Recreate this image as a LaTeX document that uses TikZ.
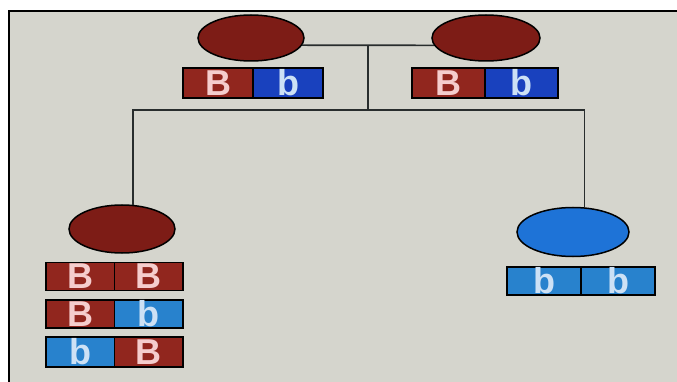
\documentclass[tikz,border=0pt]{standalone}
\usepackage{fontspec}
\setmainfont{Liberation Sans}
\usetikzlibrary{shapes.geometric}
\definecolor{bgc}{RGB}{213,213,205}
\definecolor{ellred}{RGB}{125,28,22}
\definecolor{barred}{RGB}{145,38,30}
\definecolor{topblue}{RGB}{25,65,190}
\definecolor{kidblue}{RGB}{40,130,205}
\definecolor{ellblue}{RGB}{30,115,215}
\definecolor{Bpink}{RGB}{245,205,205}
\definecolor{bblue}{RGB}{205,225,245}
\definecolor{linec}{RGB}{40,45,45}
\tikzset{
  person/.style={ellipse, draw=black, line width=1.5pt, inner sep=0pt},
  allele/.style={rectangle, draw=black, line width=1.2pt, inner sep=0pt,
     minimum height=28pt, font=\fontsize{36}{36}\selectfont\bfseries},
  bigB/.style={allele, fill=barred, text=Bpink},
  smallb/.style={allele, text=bblue},
  link/.style={draw=linec, line width=1.6pt}
}
\begin{document}
\begin{tikzpicture}[x=1pt,y=-1pt]
\useasboundingbox (0,0) rectangle (677,382);
\fill[white] (0,0) rectangle (677,382);
\fill[bgc] (9,11) rectangle (677,382);
\draw[black, line width=2pt] (9,382) -- (9,11) -- (677,11);

% parents
\node[person, fill=ellred, minimum width=106pt, minimum height=46pt] (p1) at (251,38) {};
\node[person, fill=ellred, minimum width=108pt, minimum height=46pt] (p2) at (486,38) {};
% children
\node[person, fill=ellred, minimum width=106pt, minimum height=48pt] (c1) at (122,229) {};
\node[person, fill=ellblue, minimum width=112pt, minimum height=49pt] (c2) at (573,232) {};

% connectors
\path (p1.-8) -- (p2.188) coordinate[pos=0.5] (m);
\coordinate (j) at (367,110);
\draw[link] (p1.-8) -- (p2.188);
\draw[link] (m) -- (m |- j);
\draw[link] (c1.65) -- (c1.65 |- j) -- (c2.65 |- j) -- (c2.65);

% alleles, parents
\node[bigB, minimum width=70pt, minimum height=30pt] (a11) at (218,83) {B};
\node[smallb, fill=topblue, minimum width=70pt, minimum height=30pt] (a12) at (288,83) {b};
\node[bigB, minimum width=73pt, minimum height=30pt] (a21) at (448.5,83) {B};
\node[smallb, fill=topblue, minimum width=73pt, minimum height=30pt] (a22) at (521.5,83) {b};

% alleles, left child
\node[bigB, minimum width=68.5pt] (k11) at (80.25,276.5) {B};
\node[bigB, minimum width=68.5pt] (k12) at (148.75,276.5) {B};
\node[bigB, minimum width=68.5pt] (k21) at (80.25,314) {B};
\node[smallb, fill=kidblue, minimum width=68.5pt] (k22) at (148.75,314) {b};
\node[smallb, fill=kidblue, minimum width=68.5pt, minimum height=30pt] (k31) at (80.25,352) {b};
\node[bigB, minimum width=68.5pt, minimum height=30pt] (k32) at (148.75,352) {B};

% alleles, right child
\node[smallb, fill=kidblue, minimum width=74pt] (r1) at (544,281) {b};
\node[smallb, fill=kidblue, minimum width=74pt] (r2) at (618,281) {b};
\end{tikzpicture}
\end{document}
